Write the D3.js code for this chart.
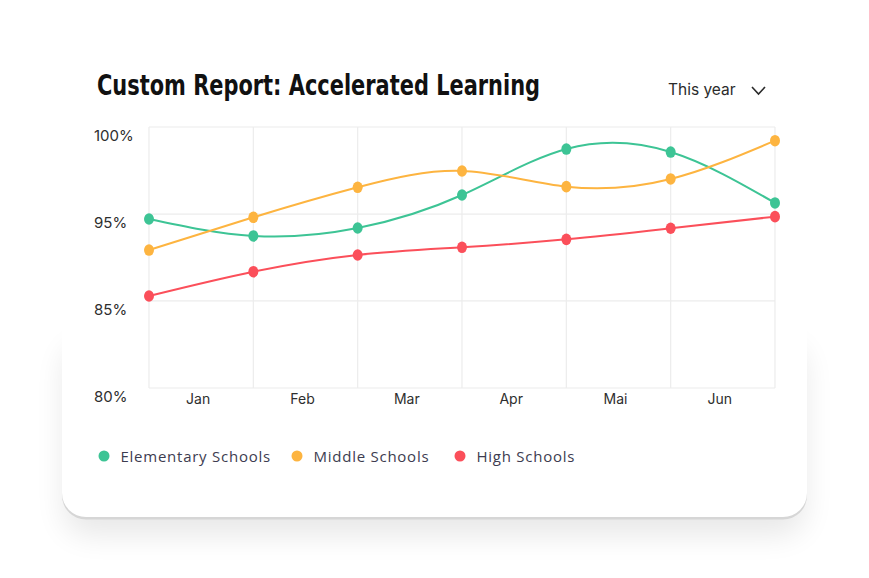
<!DOCTYPE html>
<html lang="en">
<head>
    <meta charset="UTF-8">
    <title>Custom Report: Accelerated Learning</title>
    <script src="https://d3js.org/d3.v7.min.js"></script>
    <style>
        body { margin: 0; overflow: hidden; background: #fff; }
        svg { display: block; }
    </style>
</head>
<body>
    <script>
    // chart data
    const months = ["Jan", "Feb", "Mar", "Apr", "Mai", "Jun"];
    const yTickValues = [80, 86.67, 93.33, 100];
    const yTickLabels = ["80%", "85%", "95%", "100%"];
    const elementary = [92.95, 91.65, 92.26, 94.79, 98.31, 98.08, 94.18];
    const middle = [90.57, 93.08, 95.38, 96.63, 95.43, 96.02, 98.95];
    const high = [87.05, 88.91, 90.19, 90.78, 91.39, 92.24, 93.13];
    const seriesNames = ["Elementary Schools", "Middle Schools", "High Schools"];
    const colors = ["#3dc495", "#fdb440", "#fb4f5a"];

    const width = 869, height = 578;
    const svg = d3.select("body").append("svg")
      .attr("width", width)
      .attr("height", height);

    const defs = svg.append("defs");
    defs.append("filter").attr("id", "blur")
      .attr("x", "-20%").attr("y", "-20%").attr("width", "140%").attr("height", "140%")
      .append("feGaussianBlur").attr("stdDeviation", 15);

    // card + soft shadow on its lower half
    svg.append("rect")
      .attr("x", 64).attr("y", 345).attr("width", 741).attr("height", 190)
      .attr("rx", 24)
      .attr("fill", "#000").attr("opacity", 0.09)
      .attr("filter", "url(#blur)");
    svg.append("rect")
      .attr("x", 62).attr("y", 300).attr("width", 745).attr("height", 219.5)
      .attr("rx", 24)
      .attr("fill", "#d6d6d6");
    svg.append("rect")
      .attr("x", 62).attr("y", 20).attr("width", 745).attr("height", 497)
      .attr("rx", 24)
      .attr("fill", "#fff");

    // title + period selector
    svg.append("text")
      .attr("x", 97).attr("y", 95)
      .attr("font-family", "'Liberation Sans Narrow', 'DejaVu Sans Condensed', sans-serif")
      .attr("font-weight", 700)
      .attr("font-size", 29)
      .attr("textLength", 443)
      .attr("lengthAdjust", "spacingAndGlyphs")
      .attr("fill", "#111")
      .text("Custom Report: Accelerated Learning");

    svg.append("text")
      .attr("x", 668).attr("y", 95)
      .attr("font-family", "Inter, 'Open Sans', sans-serif")
      .attr("font-size", 15.5)
      .attr("fill", "#2b2b2b")
      .text("This year");
    svg.append("polyline")
      .attr("points", "752,87 758.5,94 765,87")
      .attr("fill", "none")
      .attr("stroke", "#2b2b2b")
      .attr("stroke-width", 1.6);

    // scales
    const plot = { left: 149, right: 775, top: 127, bottom: 388 };
    const x = d3.scaleLinear().domain([0, months.length]).range([plot.left, plot.right]);
    const xBand = d3.scaleBand().domain(months).range([plot.left, plot.right]);
    const y = d3.scaleLinear().domain([80, 100]).range([plot.bottom, plot.top]);

    // grid
    const grid = svg.append("g").attr("stroke", "#ececec").attr("stroke-width", 1.2);
    grid.selectAll("line.h")
      .data(yTickValues)
      .join("line")
      .attr("x1", plot.left).attr("x2", plot.right)
      .attr("y1", d => y(d)).attr("y2", d => y(d));
    grid.selectAll("line.v")
      .data(d3.range(months.length + 1))
      .join("line")
      .attr("x1", d => x(d)).attr("x2", d => x(d))
      .attr("y1", plot.top).attr("y2", plot.bottom);

    // y labels
    svg.append("g")
      .selectAll("text")
      .data(yTickValues)
      .join("text")
      .attr("x", 94)
      .attr("y", d => y(d) + 14)
      .attr("font-family", "Inter, 'Open Sans', sans-serif")
      .attr("font-size", 15)
      .attr("fill", "#2e2e2e")
      .text((d, i) => yTickLabels[i]);

    // x labels (sit a little left of the band centre)
    svg.append("g")
      .selectAll("text")
      .data(months)
      .join("text")
      .attr("x", d => xBand(d) + xBand.bandwidth() / 2 - 3)
      .attr("y", 404)
      .attr("text-anchor", "middle")
      .attr("font-family", "Inter, 'Open Sans', sans-serif")
      .attr("font-size", 14)
      .attr("fill", "#2e2e2e")
      .text(d => d);

    // lines
    const allSeries = [elementary, middle, high];
    const line = d3.line()
      .x((d, i) => x(i))
      .y(d => y(d))
      .curve(d3.curveNatural);

    const series = svg.append("g")
      .selectAll("g")
      .data(allSeries)
      .join("g");

    series.append("path")
      .attr("d", d => line(d))
      .attr("fill", "none")
      .attr("stroke", (d, i) => colors[i])
      .attr("stroke-width", 2);

    series.each(function(vals, si) {
      d3.select(this).selectAll("ellipse")
        .data(vals)
        .join("ellipse")
        .attr("cx", (d, i) => x(i))
        .attr("cy", d => y(d))
        .attr("rx", 5)
        .attr("ry", 5.8)
        .attr("fill", colors[si]);
    });

    // legend
    const legendX = [104, 297, 460];
    const legend = svg.append("g")
      .selectAll("g")
      .data(seriesNames)
      .join("g")
      .attr("transform", (d, i) => `translate(${legendX[i]},456)`);
    legend.append("circle")
      .attr("r", 5.5)
      .attr("fill", (d, i) => colors[i]);
    legend.append("text")
      .attr("x", 16.5)
      .attr("y", 5.5)
      .attr("font-family", "'Open Sans', sans-serif")
      .attr("font-size", 15)
      .attr("letter-spacing", 0.75)
      .attr("fill", "#3d3c50")
      .text(d => d);
    </script>
</body>
</html>
